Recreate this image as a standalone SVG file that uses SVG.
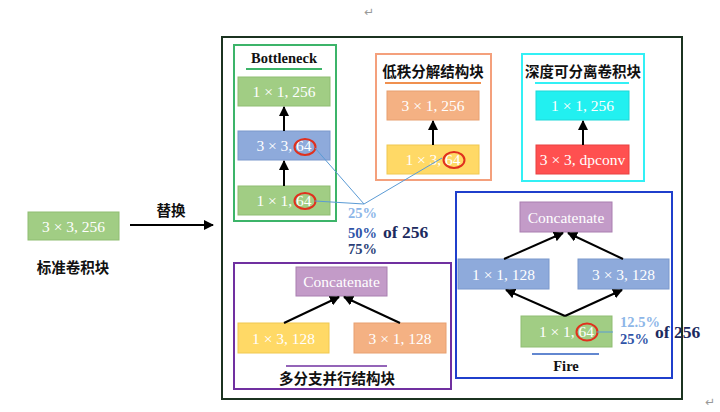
<svg xmlns="http://www.w3.org/2000/svg" width="720" height="412" viewBox="0 0 720 412">
<defs>
<marker id="ah" viewBox="0 0 10 10" refX="9" refY="5" markerWidth="5" markerHeight="5" orient="auto"><path d="M0,0 L10,5 L0,10 z" fill="#000"/></marker>
<style>
.nt{font-family:"Liberation Serif","Times New Roman",serif;font-size:15.5px;fill:#fff;text-anchor:middle;dominant-baseline:central}
.cn{font-family:"Noto Sans CJK SC","Noto Sans",sans-serif;font-size:14.5px;font-weight:bold;fill:#111;text-anchor:middle}
.en{font-family:"Liberation Serif","Times New Roman",serif;font-size:14.5px;font-weight:bold;fill:#111;text-anchor:middle}
.pct{font-family:"Liberation Serif","Times New Roman",serif;font-size:14.5px;font-weight:bold}
.big{font-size:17.5px}
.g{fill:#a1cd84;stroke:#8fbd72;stroke-width:1}
.b{fill:#8eaadb;stroke:#7a98cc;stroke-width:1}
.o{fill:#f4b183;stroke:#e8a070;stroke-width:1}
.y{fill:#ffd966;stroke:#f0c850;stroke-width:1}
.p{fill:#c39bc8;stroke:#a97fb0;stroke-width:1}
.c{fill:#22f0f0;stroke:#1dd8d8;stroke-width:1}
.r{fill:#ff5050;stroke:#e84040;stroke-width:1}
.ring{fill:none;stroke:#e0301e;stroke-width:2}
.arr{stroke:#000;stroke-width:2;fill:none;marker-end:url(#ah)}
.lk{stroke:#5b9bd5;stroke-width:1;fill:none}
.pm{font-family:"DejaVu Sans",sans-serif;font-size:12px;fill:#999}
</style>
</defs>

<text class="pm" x="364" y="16">↵</text>
<text class="pm" x="705" y="406">↵</text>

<rect x="222" y="37" width="460" height="362" fill="none" stroke="#1b3320" stroke-width="2"/>

<g id="standard">
<rect class="g" x="28" y="212" width="91" height="28"/>
<text class="nt" x="73.5" y="226">3 × 3, 256</text>
<text class="cn" x="73" y="273">标准卷积块</text>
</g>

<g id="replace">
<text class="cn" x="171" y="216">替换</text>
</g>

<g id="bottleneck">
<rect x="234" y="45" width="102" height="176" fill="none" stroke="#3cb469" stroke-width="2"/>
<text class="en" x="284" y="63">Bottleneck</text>
<line x1="246" y1="69" x2="322" y2="69" stroke="#3cb469" stroke-width="2"/>
<rect class="g" x="238" y="77" width="92" height="29"/>
<text class="nt" x="284" y="91.5">1 × 1, 256</text>
<rect class="b" x="238" y="131" width="92" height="29"/>
<text class="nt" x="284" y="145.5">3 × 3, 64</text>
<rect class="g" x="238" y="186" width="92" height="29"/>
<text class="nt" x="284" y="200.5">1 × 1, 64</text>
<ellipse class="ring" cx="305" cy="147" rx="10.5" ry="8"/>
<ellipse class="ring" cx="305" cy="201" rx="10.5" ry="8"/>
</g>

<g id="lowrank">
<rect x="376" y="54" width="115" height="126" fill="none" stroke="#f4a07c" stroke-width="2"/>
<text class="cn" x="433" y="77">低秩分解结构块</text>
<line x1="385" y1="83" x2="481" y2="83" stroke="#f0904f" stroke-width="2"/>
<rect class="o" x="387" y="91" width="92" height="29"/>
<text class="nt" x="433" y="105.5">3 × 1, 256</text>
<rect class="y" x="387" y="145" width="92" height="29"/>
<text class="nt" x="433" y="159.5">1 × 3, 64</text>
<ellipse class="ring" cx="454" cy="160" rx="10.5" ry="8"/>
</g>

<g id="depthwise">
<rect x="522" y="54" width="122" height="127" fill="none" stroke="#33f0f5" stroke-width="2"/>
<text class="cn" x="583" y="77">深度可分离卷积块</text>
<line x1="535" y1="83" x2="629" y2="83" stroke="#33f0f5" stroke-width="2"/>
<rect class="c" x="536" y="91" width="93" height="29"/>
<text class="nt" x="582.5" y="105.5">1 × 1, 256</text>
<rect class="r" x="536" y="145" width="93" height="29"/>
<text class="nt" x="582.5" y="159.5">3 × 3, dpconv</text>
</g>

<g id="multibranch">
<rect x="234" y="263" width="217" height="126" fill="none" stroke="#7030a0" stroke-width="2"/>
<rect class="p" x="296" y="267" width="91" height="29"/>
<text class="nt" x="341.5" y="281.5">Concatenate</text>
<rect class="y" x="238" y="323" width="91" height="30"/>
<text class="nt" x="283.5" y="338">1 × 3, 128</text>
<rect class="o" x="354" y="323" width="92" height="30"/>
<text class="nt" x="400" y="338">3 × 1, 128</text>
<line x1="286" y1="366" x2="387" y2="366" stroke="#7030a0" stroke-width="1.5"/>
<text class="cn" x="337" y="384">多分支并行结构块</text>
</g>

<g id="fire">
<rect x="456" y="192" width="216" height="186" fill="none" stroke="#1f3fcc" stroke-width="2"/>
<rect class="p" x="520" y="202" width="92" height="30"/>
<text class="nt" x="566" y="217">Concatenate</text>
<rect class="b" x="458" y="259" width="91" height="30"/>
<text class="nt" x="503.5" y="274">1 × 1, 128</text>
<rect class="b" x="578" y="259" width="91" height="30"/>
<text class="nt" x="623.5" y="274">3 × 3, 128</text>
<rect class="g" x="521" y="316" width="91" height="31"/>
<text class="nt" x="566.5" y="331.5">1 × 1, 64</text>
<ellipse class="ring" cx="587" cy="332" rx="10.5" ry="8.5"/>
<line x1="532" y1="354" x2="599" y2="354" stroke="#2e5fc0" stroke-width="1.5"/>
<text class="en" x="566" y="371">Fire</text>
</g>

<g id="connectors">
<line class="arr" x1="130" y1="225" x2="213" y2="225"/>
<line class="arr" x1="284" y1="131" x2="284" y2="107"/>
<line class="arr" x1="284" y1="186" x2="284" y2="161"/>
<line class="arr" x1="433" y1="145" x2="433" y2="121"/>
<line class="arr" x1="583" y1="145" x2="583" y2="121"/>
<line class="arr" x1="284" y1="323" x2="339" y2="297"/>
<line class="arr" x1="400" y1="323" x2="344" y2="297"/>
<line class="arr" x1="504" y1="259" x2="563" y2="233"/>
<line class="arr" x1="623" y1="259" x2="568" y2="233"/>
<line class="arr" x1="565" y1="316" x2="506" y2="290"/>
<line class="arr" x1="565" y1="316" x2="622" y2="290"/>
<polyline class="lk" points="315,148 364,204 442,158"/>
<line class="lk" x1="315" y1="201" x2="364" y2="204"/>
<line class="lk" x1="597" y1="332" x2="613" y2="332" stroke="#7f9fc8"/>
</g>

<g id="ratios">
<text class="pct" x="348" y="218" fill="#8db6e8">25%</text>
<text class="pct" x="348" y="238" fill="#2f54a8">50%</text>
<text class="pct big" x="383" y="238" fill="#1c2a5e">of 256</text>
<text class="pct" x="348" y="254" fill="#2b3f78">75%</text>
<text class="pct" x="620" y="327" fill="#8db6e8">12.5%</text>
<text class="pct" x="620" y="344" fill="#2f54a8">25%</text>
<text class="pct big" x="655" y="338" fill="#1c2a5e">of 256</text>
</g>
</svg>
